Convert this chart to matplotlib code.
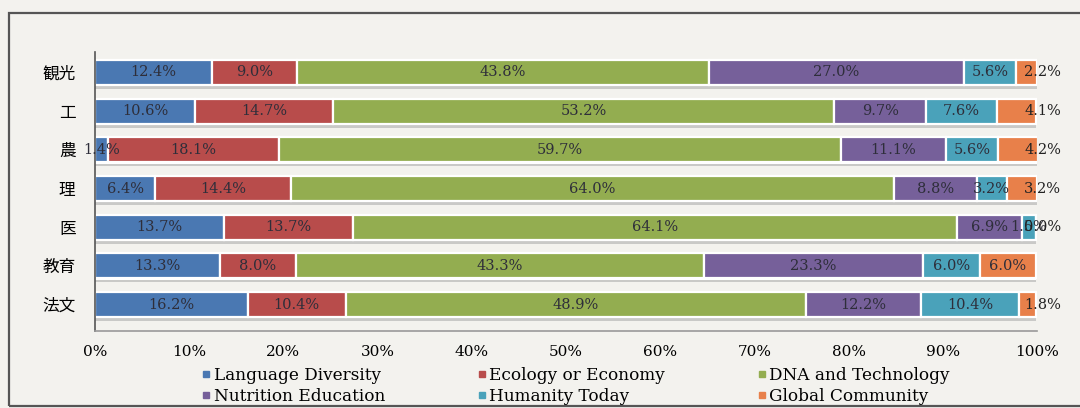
import numpy as np
import matplotlib.pyplot as plt
from matplotlib.lines import Line2D
from matplotlib.patches import Rectangle

# faculties, top to bottom
faculties = ["観光", "工", "農", "理", "医", "教育", "法文"]

courses = ["Language Diversity", "Ecology or Economy", "DNA and Technology",
           "Nutrition Education", "Humanity Today", "Global Community"]

language = [12.4, 10.6, 1.4, 6.4, 13.7, 13.3, 16.2]
ecology = [9.0, 14.7, 18.1, 14.4, 13.7, 8.0, 10.4]
dna = [43.8, 53.2, 59.7, 64.0, 64.1, 43.3, 48.9]
nutrition = [27.0, 9.7, 11.1, 8.8, 6.9, 23.3, 12.2]
humanity = [5.6, 7.6, 5.6, 3.2, 1.5, 6.0, 10.4]
global_comm = [2.2, 4.1, 4.2, 3.2, 0.0, 6.0, 1.8]

colors = ["#4a78b2", "#b84c4b", "#93ad50", "#76609a", "#4aa2ba", "#e8804a"]

series = [language, ecology, dna, nutrition, humanity, global_comm]

bg = "#f3f2ee"
plt.rcParams["font.family"] = ["DejaVu Serif", "Noto Sans CJK JP"]

fig = plt.figure(figsize=(10.8, 4.08), dpi=100, facecolor=bg)
ax = fig.add_axes([95 / 1080, 1 - 331 / 408, (1037 - 95) / 1080, (331 - 52) / 408])
ax.set_facecolor(bg)

# outer frame
fig.patches.append(Rectangle((9 / 1080, 1 - 406 / 408), 1.2, (406 - 13) / 408,
                             transform=fig.transFigure, fill=False,
                             edgecolor="#555555", lw=1.6, zorder=0))

n = len(faculties)
y = np.arange(n)[::-1]
h = 0.65

# drop shadow beneath every bar
totals = np.sum(series, axis=0)
ax.barh(y - 0.1, totals, height=h, color="#c9c9c7", edgecolor="none", zorder=1)
ax.barh(y - 0.03, totals, height=h, color="white", edgecolor="none", zorder=1.5)

left = np.zeros(n)
for k, vals in enumerate(series):
    vals = np.array(vals)
    ax.barh(y, vals, left=left, height=h, color=colors[k],
            edgecolor="white", lw=1.6, zorder=2)
    for i in range(n):
        xc = left[i] + vals[i] / 2
        col = "#2e2e3a"
        if k == len(series) - 1 and vals[i] < 5:
            xc = 100.6
            col = "#222222"
        ax.text(xc, y[i], f"{vals[i]:.1f}%", ha="center", va="center",
                fontsize=10.5, color=col, zorder=3)
    left += vals

ax.set_xlim(0, 100)
ax.set_ylim(-0.685, n - 1 + 0.53)
ax.set_xticks(np.arange(0, 101, 10))
ax.set_xticklabels([f"{t}%" for t in range(0, 101, 10)], fontsize=11)
ax.set_yticks(y)
ax.set_yticklabels(faculties, fontsize=12, family=["Noto Sans CJK JP"])
ax.tick_params(axis="x", length=0, pad=10)
ax.tick_params(axis="y", length=0, pad=14)
for s in ["top", "right"]:
    ax.spines[s].set_visible(False)
ax.spines["left"].set_color("#555555")
ax.spines["left"].set_linewidth(1.2)
ax.spines["bottom"].set_color("#999999")
ax.spines["bottom"].set_linewidth(1.2)

# legend, filled row by row
handles = [Line2D([], [], marker="s", ls="", color=c, markersize=5) for c in colors]
order = [0, 3, 1, 4, 2, 5]
fig.legend([handles[i] for i in order], [courses[i] for i in order], ncol=3,
           loc="center left", bbox_to_anchor=(191 / 1080, 1 - 386 / 408),
           frameon=False, fontsize=12.2, handletextpad=0.05, handlelength=0.8,
           columnspacing=5.3, labelspacing=0.2, borderpad=0)

fig.savefig("out.png", dpi=100, facecolor=bg)
